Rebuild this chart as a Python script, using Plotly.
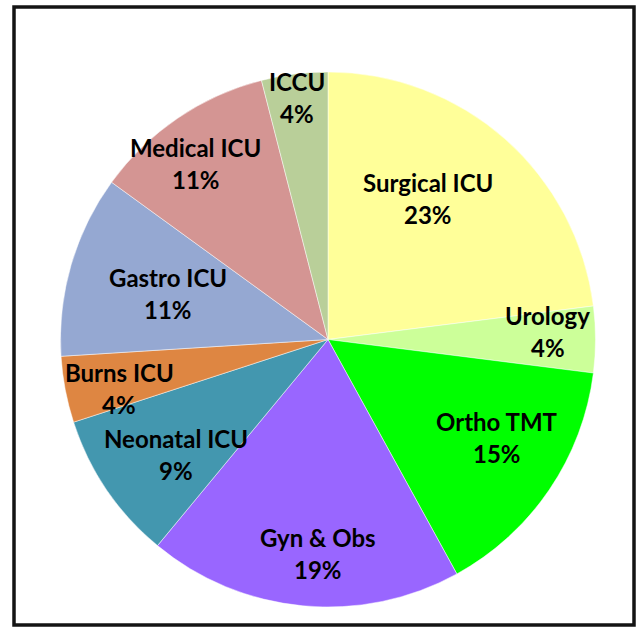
import math
import plotly.graph_objects as go

labels = ["Surgical ICU", "Urology", "Ortho TMT", "Gyn & Obs", "Neonatal ICU",
          "Burns ICU", "Gastro ICU", "Medical ICU", "ICCU"]
values = [23, 4, 15, 19, 9, 4, 11, 11, 4]
colors = ["#FFFF99", "#CCFF99", "#00FF00", "#9966FF", "#4397AF",
          "#DE8642", "#95A8D2", "#D49593", "#B9CF99"]

# label placement (fraction of radius, angle offset in degrees)
label_r = [0.645, 0.82, 0.73, 0.80, 0.71, 0.80, 0.62, 0.82, 0.91]
label_da = [-6, -2, -4, -2.7, -3, -2.3, 0, -2.8, 0]

W, H = 643, 629
px0, px1 = 60, 596
py0, py1 = 72, 607
cx, cy = (px0 + px1) / 2, (py0 + py1) / 2
R = (px1 - px0) / 2

fig = go.Figure(go.Pie(
    labels=labels, values=values, sort=False, direction="clockwise",
    rotation=0, textinfo="none", hoverinfo="label+percent",
    marker=dict(colors=colors, line=dict(color="rgba(255,255,255,0.6)", width=0.8)),
    domain=dict(x=[px0 / W, px1 / W], y=[1 - py1 / H, 1 - py0 / H]),
    showlegend=False,
))

total = sum(values)
cum = 0
font = dict(family="Lato", size=24, color="#000000", weight="bold")
for lab, v, rf, da in zip(labels, values, label_r, label_da):
    mid = (cum + v / 2) / total * 360 + da
    cum += v
    x = cx + rf * R * math.sin(math.radians(mid))
    y = cy - rf * R * math.cos(math.radians(mid))
    pct = f"{round(v / total * 100)}%"
    for txt, shift in ((lab, 16), (pct, -16)):
        fig.add_annotation(x=x / W, y=1 - y / H, xref="paper", yref="paper",
                           text=txt, showarrow=False, font=font,
                           xanchor="center", yanchor="middle", yshift=shift)

fig.add_shape(type="rect", xref="paper", yref="paper",
              x0=14 / W, x1=634 / W, y0=1 - 625 / H, y1=1 - 7 / H,
              line=dict(color="#141414", width=3.5))

fig.update_layout(width=W, height=H, margin=dict(l=0, r=0, t=0, b=0),
                  paper_bgcolor="white", plot_bgcolor="white")
fig.write_html("out.html", config={"displayModeBar": False},
               post_script="document.body.style.margin='0';document.body.style.overflow='hidden';")
